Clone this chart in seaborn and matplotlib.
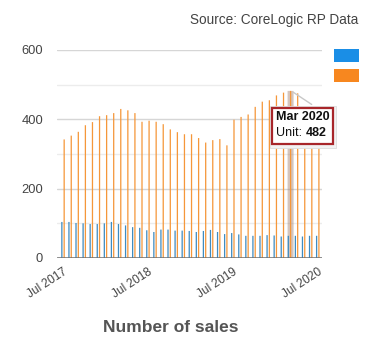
import matplotlib
matplotlib.use("Agg")
import matplotlib.pyplot as plt
from matplotlib.patches import Rectangle
from matplotlib.transforms import Affine2D
import seaborn as sns
import pandas as pd

# Monthly sales, Jul 2017 - Jul 2020
months = [d.strftime("%b %Y") for d in pd.date_range("2017-07-01", "2020-07-01", freq="MS")]
houses = [104, 104, 101, 100, 98, 98, 100, 104, 98, 94, 89, 87,
          80, 75, 82, 82, 79, 79, 78, 75, 78, 81, 75, 69,
          72, 68, 64, 64, 64, 66, 65, 62, 64, 64, 62, 64, 64]
units = [342, 353, 364, 383, 392, 409, 412, 418, 430, 426, 418, 393,
         396, 393, 386, 371, 363, 357, 357, 346, 333, 340, 343, 325,
         399, 407, 414, 436, 451, 455, 469, 477, 482, 475, 428, 418, 425]
series_names = ["House", "Unit"]
tick_labels = ["Jul 2017", "Jul 2018", "Jul 2019", "Jul 2020"]
y_ticks = [0, 200, 400, 600]
y_minor = [100, 300, 500]
hover_month = "Mar 2020"

bar_colors = ["#3f8bc0", "#f5973a"]
legend_colors = ["#1a8ee6", "#f7871f"]

df = pd.DataFrame({
    "month": months * 2,
    "type": [series_names[0]] * len(months) + [series_names[1]] * len(months),
    "sales": houses + units,
})

sns.set_theme(style="white")
plt.rcParams["font.family"] = ["Liberation Sans", "DejaVu Sans"]

W, H = 380, 344
fig = plt.figure(figsize=(W / 100, H / 100), dpi=100)
pix = Affine2D().scale(1 / W, -1 / H).translate(0, 1) + fig.transFigure

ax = fig.add_axes([57 / W, 1 - 258 / H, (322 - 57) / W, (258 - 50) / H])

sns.barplot(data=df, x="month", y="sales", hue="type", order=months,
            hue_order=series_names, palette=bar_colors, width=0.65, gap=0.45,
            saturation=1, legend=False, ax=ax)
for p in ax.patches:
    p.set_snap(False)
    p.set_linewidth(0)
    p.set_zorder(2)

# hover halo behind the highlighted unit column
hi = months.index(hover_month)
halo = ax.bar(hi + 0.16, units[hi], width=0.85, color="#a08070", alpha=0.45,
              zorder=1, linewidth=0)
for p in halo:
    p.set_snap(False)

ax.set_xlim(-0.85, len(months) - 0.4)
ax.set_ylim(0, 600)
for s in ax.spines.values():
    s.set_visible(False)

ax.set_yticks(y_ticks)
ax.set_yticks(y_minor, minor=True)
ax.grid(axis="y", which="major", color="#d6d6d6", linewidth=1.0, linestyle="-", zorder=0)
ax.grid(axis="y", which="minor", color="#ececec", linewidth=1.0, linestyle="-", zorder=0)
ax.set_axisbelow(True)
ax.axhline(0, color="#6e6e6e", linewidth=1.8, zorder=3)

ax.set_xticks([months.index(t) for t in tick_labels])
ax.set_xticklabels(tick_labels, rotation=33, ha="right", va="top",
                   rotation_mode="anchor", fontsize=8.6, color="#444444")
ax.tick_params(axis="x", length=0, pad=6)
ax.tick_params(axis="y", which="both", length=0, pad=10, labelsize=9.3, labelcolor="#444444")
ax.set_xlabel("")
ax.set_ylabel("")

# source note and title
fig.text(358 / W, 1 - 20 / H, "Source: CoreLogic RP Data", ha="right", va="center",
         fontsize=9.8, color="#444444")
fig.text(171 / W, 1 - 327 / H, "Number of sales", ha="center", va="center",
         fontsize=12.5, fontweight="bold", color="#555555")

# legend swatches
for i, c in enumerate(legend_colors):
    fig.patches.append(Rectangle((334, 49 + i * 20), 25, 13, transform=pix,
                                 facecolor=c, edgecolor="none"))

# tooltip connector
ax.annotate("", xy=(hi + 0.25, units[hi]), xycoords="data",
            xytext=(314, H - 106), textcoords="figure pixels",
            arrowprops=dict(arrowstyle="-", color="#c8c8c8", lw=1.0))

# tooltip box
fig.patches.append(Rectangle((270, 106), 66, 42, transform=pix,
                             facecolor="#f2f2f2", edgecolor="#dddddd", lw=0.6, zorder=5))
fig.patches.append(Rectangle((272, 108), 61, 36, transform=pix,
                             facecolor="white", edgecolor="#a8262a", lw=1.6, zorder=6))
fig.text(276, 117, hover_month, transform=pix, ha="left", va="center",
         fontsize=9, fontweight="bold", color="#111111", zorder=7)
t1 = fig.text(276, 132.5, "Unit: ", transform=pix, ha="left", va="center",
              fontsize=9, color="#111111", zorder=7)
fig.canvas.draw()
x_end = t1.get_window_extent().x1 * W / fig.bbox.width
fig.text(x_end, 132.5, f"{units[hi]}", transform=pix, ha="left", va="center",
         fontsize=9, fontweight="bold", color="#111111", zorder=7)

fig.savefig("out.png", dpi=100)
